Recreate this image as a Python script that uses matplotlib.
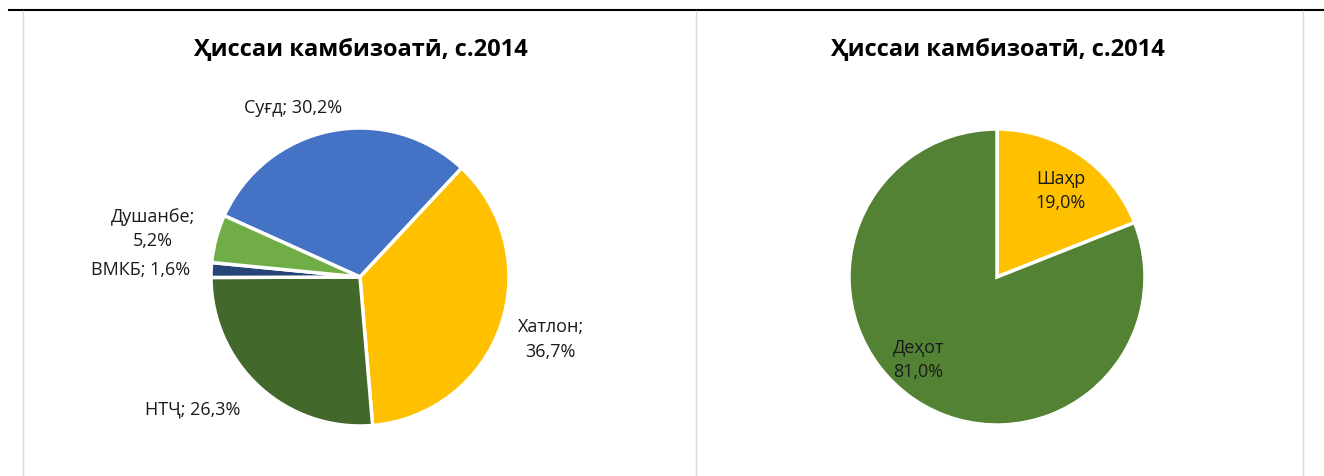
import numpy as np
import matplotlib.pyplot as plt
from matplotlib.lines import Line2D

plt.rcParams['font.family'] = ['Open Sans', 'DejaVu Sans']

title = "Ҳиссаи камбизоатӣ, с.2014"

# left pie: regions
regions = ["Суғд", "Хатлон", "НТҶ", "ВМКБ", "Душанбе"]
region_share = [30.2, 36.7, 26.3, 1.6, 5.2]
region_colors = ["#4472C4", "#FFC000", "#43682B", "#264478", "#70AD47"]
region_lbl = ["Суғд; 30,2%", "Хатлон;\n36,7%", "НТҶ; 26,3%", "ВМКБ; 1,6%", "Душанбе;\n5,2%"]
region_lbl_pos = [(-0.45, 1.135), (1.28, -0.42), (-1.12, -0.89), (-1.47, 0.05), (-1.39, 0.32)]

# right pie: town / village
areas = ["Шаҳр", "Деҳот"]
area_share = [19.0, 81.0]
area_colors = ["#FFC000", "#548235"]
area_lbl_pos = [(0.43, 0.58), (-0.53, -0.56)]

W, H = 1324, 476
fig = plt.figure(figsize=(W / 100, H / 100), dpi=100)


def pie_axes(cx, cy, r):
    return fig.add_axes([(cx - r) / W, 1 - (cy + r) / H, 2 * r / W, 2 * r / H])


ax1 = pie_axes(360, 277, 149)
ax1.pie(region_share, colors=region_colors, startangle=155.7, counterclock=False,
        radius=1, wedgeprops=dict(edgecolor="white", linewidth=2.5))
for txt, (x, y) in zip(region_lbl, region_lbl_pos):
    ax1.text(x, y, txt, ha="center", va="center", fontsize=13, color="#1a1a1a",
             linespacing=1.45, clip_on=False)
ax1.set_xlim(-1, 1)
ax1.set_ylim(-1, 1)
ax1.axis("off")

ax2 = pie_axes(997, 277, 148)
ax2.pie(area_share, colors=area_colors, startangle=90, counterclock=False,
        radius=1, wedgeprops=dict(edgecolor="white", linewidth=2.5))
for name, v, (x, y) in zip(areas, area_share, area_lbl_pos):
    ax2.text(x, y, name + "\n" + f"{v:.1f}%".replace(".", ","), ha="center", va="center",
             fontsize=13, color="#1a1a1a", linespacing=1.45)
ax2.set_xlim(-1, 1)
ax2.set_ylim(-1, 1)
ax2.axis("off")

fig.text(360 / W, 1 - 50 / H, title, ha="center", va="center", fontsize=17, fontweight="bold")
fig.text(997 / W, 1 - 50 / H, title, ha="center", va="center", fontsize=17, fontweight="bold")

# frame lines
fig.add_artist(Line2D([9 / W, 1], [1 - 10 / H] * 2, color="black", lw=1.5))
for x in [23, 696, 1303]:
    fig.add_artist(Line2D([x / W] * 2, [0, 1 - 11 / H], color="#D9D9D9", lw=1))

plt.savefig("out.png", dpi=100)
